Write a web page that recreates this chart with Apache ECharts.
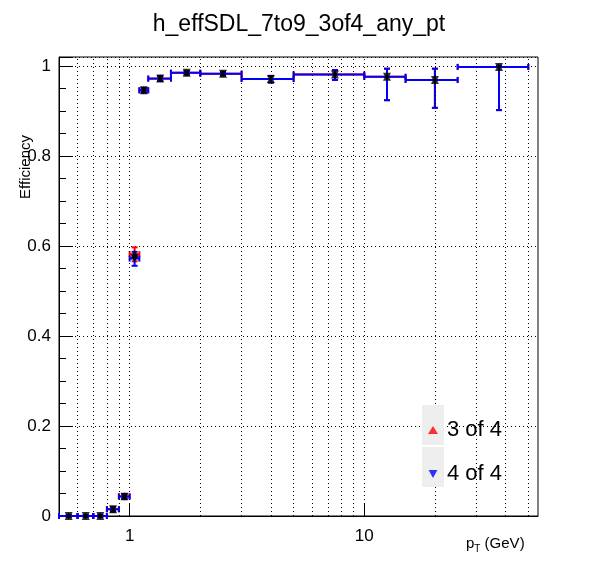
<!DOCTYPE html>
<html>
<head>
<meta charset="utf-8">
<title>h_effSDL_7to9_3of4_any_pt</title>
<script src="https://cdn.jsdelivr.net/npm/echarts@6/dist/echarts.min.js"></script>
<style>
  html, body { margin: 0; padding: 0; background: #fff; }
  #main { width: 598px; height: 575px; }
</style>
</head>
<body>
<div id="main"></div>
<script>
// bin edges and centres (GeV)
var binLow  = [0.5, 0.6, 0.7, 0.8, 0.9, 1.0, 1.1, 1.2, 1.5, 2, 3, 5, 10, 15, 25];
var binHigh = [0.6, 0.7, 0.8, 0.9, 1.0, 1.1, 1.2, 1.5, 2, 3, 5, 10, 15, 25, 50];
var centers = [0.55, 0.65, 0.75, 0.85, 0.95, 1.05, 1.15, 1.35, 1.75, 2.5, 4, 7.5, 12.5, 20, 37.5];
// efficiencies
var eff3of4 = [0, 0, 0, 0.015, 0.044, 0.582, 0.946, 0.972, 0.985, 0.983, 0.971, 0.981, 0.976, 0.969, 0.998];
var eff4of4 = [0, 0, 0, 0.015, 0.043, 0.572, 0.946, 0.972, 0.985, 0.983, 0.971, 0.981, 0.976, 0.969, 0.998];
var errDn = [0.002, 0.002, 0.002, 0.005, 0.005, 0.016, 0.005, 0.005, 0.004, 0.004, 0.008, 0.012, 0.052, 0.062, 0.096];
var errUp = [0.002, 0.002, 0.002, 0.005, 0.005, 0.015, 0.005, 0.005, 0.004, 0.004, 0.007, 0.010, 0.018, 0.025, 0.002];
// dotted grid positions on the log axis
var gridX = [0.6, 0.7, 0.8, 0.9, 1, 2, 3, 4, 5, 6, 7, 8, 9, 10, 20, 30, 40, 50];
var xLabels = [1, 10];

function errData(eff) {
  return centers.map(function (c, i) {
    return [c, eff[i], binLow[i], binHigh[i], eff[i] - errDn[i], Math.min(1, eff[i] + errUp[i])];
  });
}

function errRender(color) {
  return function (params, api) {
    var p = api.coord([api.value(0), api.value(1)]);
    var l = api.coord([api.value(2), api.value(1)]);
    var r = api.coord([api.value(3), api.value(1)]);
    var lo = api.coord([api.value(0), api.value(4)]);
    var hi = api.coord([api.value(0), api.value(5)]);
    var st = { stroke: color, lineWidth: 2 };
    var c = 3;
    return {
      type: 'group',
      children: [
        { type: 'line', shape: { x1: l[0], y1: p[1], x2: r[0], y2: p[1] }, style: st },
        { type: 'line', shape: { x1: p[0], y1: lo[1], x2: p[0], y2: hi[1] }, style: st },
        { type: 'line', shape: { x1: l[0], y1: p[1] - c, x2: l[0], y2: p[1] + c }, style: st },
        { type: 'line', shape: { x1: r[0], y1: p[1] - c, x2: r[0], y2: p[1] + c }, style: st },
        { type: 'line', shape: { x1: p[0] - c, y1: lo[1], x2: p[0] + c, y2: lo[1] }, style: st },
        { type: 'line', shape: { x1: p[0] - c, y1: hi[1], x2: p[0] + c, y2: hi[1] }, style: st }
      ]
    };
  };
}

var downTri = 'path://M0,0 L10,0 L5,9 Z';
var font = 'Liberation Sans';

var chart = echarts.init(document.getElementById('main'));
chart.setOption({
  animation: false,
  title: {
    text: 'h_effSDL_7to9_3of4_any_pt',
    left: 'center', top: 8,
    textStyle: { fontFamily: font, fontWeight: 'normal', fontSize: 23, color: '#000' }
  },
  grid: { left: 59, right: 60, top: 57, bottom: 59, show: true, borderColor: '#000', borderWidth: 1, outerBoundsMode: 'none', containLabel: false },
  graphic: [
    { type: 'rect', left: 422, top: 405, shape: { width: 22, height: 40 }, style: { fill: '#eeeeee' }, z: 10 },
    { type: 'rect', left: 422, top: 447, shape: { width: 22, height: 40 }, style: { fill: '#eeeeee' }, z: 10 },
    {
      type: 'text', x: 18, y: 135, rotation: Math.PI / 2,
      style: { text: 'Efficiency', font: '15px "Liberation Sans"', fill: '#000', align: 'right', verticalAlign: 'top' }
    },
    {
      type: 'text', left: 466, top: 536,
      style: { text: '{a|p}{s|T}{a| (GeV)}', rich: {
        a: { fontFamily: font, fontSize: 15, fill: '#000' },
        s: { fontFamily: font, fontSize: 10, fill: '#000', padding: [12, 0, 0, 0] }
      } }
    }
  ],
  legend: {
    orient: 'vertical', left: 423, top: 414, itemGap: 22, itemWidth: 10, itemHeight: 8, z: 20,
    textStyle: { fontFamily: font, fontSize: 22, color: '#000', padding: [0, 0, 0, 4] },
    data: [
      { name: '3 of 4', icon: 'triangle', itemStyle: { color: '#ff0000' } },
      { name: '4 of 4', icon: downTri, itemStyle: { color: '#0000ff' } }
    ]
  },
  xAxis: {
    type: 'log', logBase: 10, min: 0.5, max: 55,
    axisLine: { lineStyle: { color: '#000' } },
    axisTick: { inside: true, length: 12, lineStyle: { color: '#000' } },
    axisLabel: {
      fontFamily: font, fontSize: 17, color: '#000', margin: 12,
      showMinLabel: false, showMaxLabel: false,
      formatter: function (v) { return xLabels.indexOf(Math.round(v * 100) / 100) >= 0 ? String(Math.round(v)) : ''; }
    },
    splitLine: { show: false }
  },
  yAxis: {
    type: 'value', min: 0, max: 1.02, interval: 0.2,
    axisLine: { show: true, lineStyle: { color: '#000' } },
    axisTick: { inside: true, length: 14, lineStyle: { color: '#000' } },
    minorTick: { show: true, splitNumber: 4, length: 7, lineStyle: { color: '#000' } },
    axisLabel: {
      fontFamily: font, fontSize: 17, color: '#000', margin: 8,
      formatter: function (v) { return v > 1.001 ? '' : (Math.round(v * 10) / 10).toString(); }
    },
    splitLine: { show: true, lineStyle: { color: '#000', type: [1, 3], width: 1 } }
  },
  series: [
    {
      name: 'grid', type: 'line', data: [], silent: true,
      markLine: {
        symbol: 'none', silent: true, label: { show: false },
        lineStyle: { color: '#000', type: [1, 3], width: 1 },
        data: gridX.map(function (v) { return { xAxis: v }; })
      }
    },
    { name: 'err3', type: 'custom', renderItem: errRender('#ff0000'), data: errData(eff3of4), z: 3 },
    { name: 'err4', type: 'custom', renderItem: errRender('#0000ff'), data: errData(eff4of4), z: 4 },
    {
      name: '3 of 4', type: 'scatter', symbol: 'triangle', symbolSize: 8, z: 5,
      itemStyle: { color: '#000' },
      data: centers.map(function (c, i) { return [c, eff3of4[i]]; })
    },
    {
      name: '4 of 4', type: 'scatter', symbol: downTri, symbolSize: 8, z: 6,
      itemStyle: { color: '#000' },
      data: centers.map(function (c, i) { return [c, eff4of4[i]]; })
    }
  ]
});
</script>
</body>
</html>
